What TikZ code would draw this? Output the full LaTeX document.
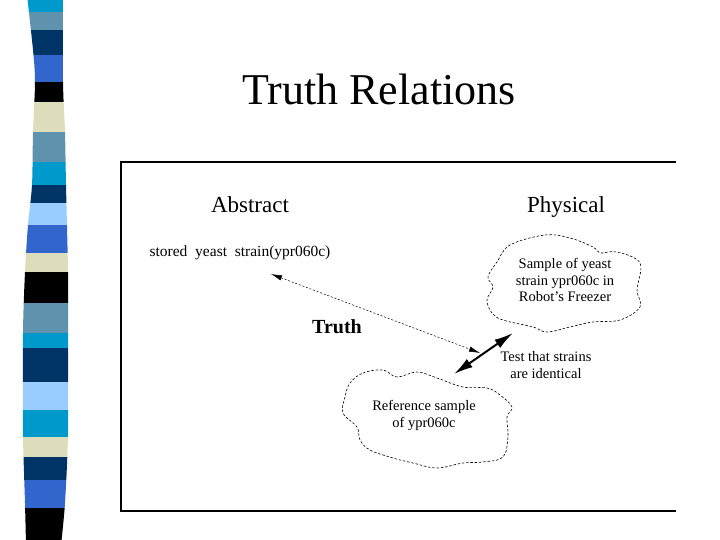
\documentclass[tikz,border=0pt]{standalone}
\usepackage{fontspec}
\setmainfont{Liberation Serif}
\usetikzlibrary{arrows.meta}
\definecolor{barcyan}{HTML}{0099CC}
\definecolor{barsteel}{HTML}{5F92AD}
\definecolor{barnavy}{HTML}{003366}
\definecolor{barroyal}{HTML}{3366CC}
\definecolor{barblack}{HTML}{000000}
\definecolor{barbeige}{HTML}{DDDDBB}
\definecolor{barsky}{HTML}{99CCFF}
\tikzstyle{slidetitle} = [inner sep=0pt, anchor=base, font=\fontsize{44}{48}\selectfont]
\tikzstyle{headtext} = [inner sep=0pt, anchor=base, font=\fontsize{23}{25}\selectfont]
\tikzstyle{cloudtext} = [inner sep=0pt, align=center, font=\fontsize{14.5}{16.5}\selectfont]
\tikzstyle{cloudline} = [draw, line width=0.6pt, dash pattern=on 2.5pt off 1.8pt]
\tikzstyle{truthlink} = [{Latex[length=11pt,width=5.5pt]}-{Latex[length=11pt,width=5.5pt]},
    line width=0.5pt, dash pattern=on 2pt off 1.8pt]
\tikzstyle{testlink} = [{Latex[length=19pt,width=10pt]}-{Latex[length=19pt,width=10pt]}, line width=2pt]
\begin{document}
\begin{tikzpicture}[x=1pt, y=-1pt]
\useasboundingbox (0,0) rectangle (720,540);
% striped bar on the left
\begin{scope}
\clip plot[smooth] coordinates {(27,-5) (33,50) (35,82) (33,132) (32,185) (28,225) (25,272)
    (23,333) (23,433) (25,503) (26,545)}
  -- plot[smooth] coordinates {(61,545) (65,503) (68,433) (68,333) (68,272) (66,185)
    (65,132) (63,82) (63,-5)} -- cycle;
\foreach \ya/\yb/\col in {-5/12/barcyan, 12/30/barsteel, 30/55/barnavy, 55/82/barroyal,
    82/102/barblack, 102/132/barbeige, 132/162/barsteel, 162/185/barcyan, 185/203/barnavy,
    203/225/barsky, 225/253/barroyal, 253/272/barbeige, 272/303/barblack, 303/333/barsteel,
    333/348/barcyan, 348/382/barnavy, 382/410/barsky, 410/437/barcyan, 437/457/barbeige,
    457/480/barnavy, 480/508/barroyal, 508/545/barblack}
  \fill[\col] (0,\ya) rectangle (90,\yb);
\end{scope}

\node[slidetitle] (title) at (379,105) {Truth Relations};

% picture frame, open on the right
\draw[line width=1.3pt] (676,162) -- (121,162) -- (121,511) -- (676,511);

\node[headtext] (abstract) at (250,213) {Abstract};
\node[headtext] (physical) at (566,212) {Physical};
\node[inner sep=0pt, font=\fontsize{15.5}{17}\selectfont] (stored) at (240,253)
  {stored\ \ yeast\ \ strain(ypr060c)};
\node[headtext, font=\fontsize{20}{22}\selectfont\bfseries] (truth) at (337,333) {Truth};

% clouds
\draw[cloudline] plot[smooth cycle, tension=0.6] coordinates {(510,245) (545,235) (570,238)
  (593,247) (600,253) (617,252) (640,263) (637,290) (640,307) (620,320) (593,322) (570,327)
  (547,332) (533,327) (503,320) (492,313) (487,300) (493,287) (488,277) (497,262)};
\node[cloudtext] (freezer) at (565,280) {Sample of yeast\\strain ypr060c in\\Robot's Freezer};

\draw[cloudline] plot[smooth cycle, tension=0.6] coordinates {(350,383) (363,373) (383,370)
  (397,377) (417,372) (437,378) (463,387) (487,388) (500,395) (512,407) (507,417) (508,437)
  (503,457) (483,462) (463,463) (437,468) (413,463) (393,458) (370,450) (360,440) (357,427)
  (343,413) (345,397)};
\node[cloudtext, font=\fontsize{14.5}{17}\selectfont] (refsample) at (424,415)
  {Reference sample\\of ypr060c};

\node[cloudtext] (testnote) at (546,365) {Test that strains\\are identical};

% arrows
\coordinate (storedtip) at (271,274);
\coordinate (truthtip) at (480,353);
\coordinate (testlow) at (454,374);
\coordinate (testhigh) at (513,333);
\draw[truthlink] (storedtip) -- (truthtip);
\draw[testlink] (testlow) -- (testhigh);
\end{tikzpicture}
\end{document}
